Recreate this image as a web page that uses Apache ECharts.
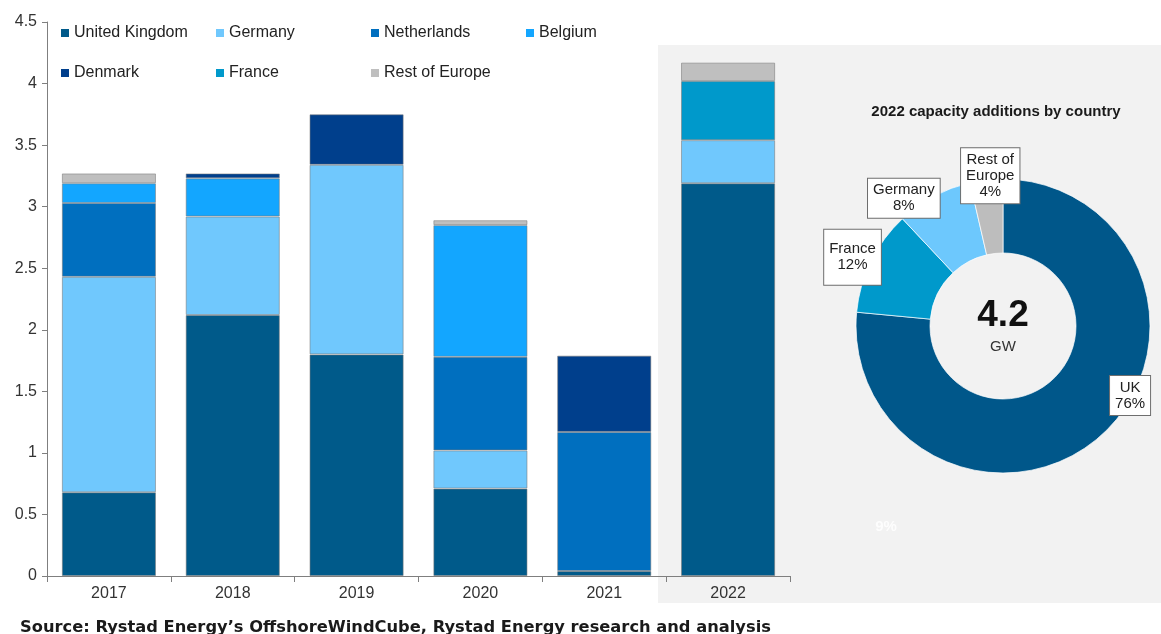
<!DOCTYPE html>
<html>
<head>
<meta charset="utf-8">
<title>European offshore wind capacity additions</title>
<script src="https://cdn.jsdelivr.net/npm/echarts@6/dist/echarts.min.js"></script>
<style>
  html, body { margin: 0; padding: 0; background: #ffffff; }
  #chart { width: 1161px; height: 634px; }
</style>
</head>
<body>
<div id="chart"></div>
<script>
// Annual offshore wind capacity additions (GW), stacked by country
const years = ['2017', '2018', '2019', '2020', '2021', '2022'];
const unitedKingdom = [0.68, 2.12, 1.80, 0.71, 0.04, 3.19];
const germany       = [1.75, 0.80, 1.54, 0.31, null, 0.35];
const netherlands   = [0.60, null, null, 0.76, 1.13, null];
const belgium       = [0.16, 0.31, null, 1.07, null, null];
const denmark       = [null, 0.04, 0.41, null, 0.62, null];
const france        = [null, null, null, null, null, 0.48];
const restOfEurope  = [0.08, null, null, 0.04, null, 0.15];

const seriesNames = ['United Kingdom', 'Germany', 'Netherlands', 'Belgium', 'Denmark', 'France', 'Rest of Europe'];
const seriesValues = [unitedKingdom, germany, netherlands, belgium, denmark, france, restOfEurope];
const seriesColors = ['#005a8a', '#70c8fd', '#006fbf', '#13a6ff', '#003f8c', '#0099cb', '#bfbfbf'];

// Donut: 2022 split, clockwise from 12 o'clock
const donutYear = '2022';
const donutLabels = ['UK', 'France', 'Germany', 'Rest of\nEurope'];
const donutSources = [unitedKingdom, france, germany, restOfEurope];
const donutColors = ['#00578a', '#0099cb', '#6dc8fd', '#bdbdbd'];
const donutLabelOffsets = [[51, -14], [-49, -19], [-46, -28], [0, -38]];
const donutLabelPadding = [[4, 5, 3, 5], [12, 5, 11, 5], [4, 5, 3, 5], [4, 5, 3, 5]];

const yTicks = { min: 0, max: 4.5, interval: 0.5 };
const FONT = '"Liberation Sans", Arial, sans-serif';

const yi = years.indexOf(donutYear);
const donutValues = donutSources.map(a => a[yi]);
const donutTotal = donutValues.reduce((s, v) => s + v, 0);

const chart = echarts.init(document.getElementById('chart'), null, { renderer: 'canvas' });

const barSeries = seriesNames.map((name, i) => ({
  name: name,
  type: 'bar',
  stack: 'total',
  barCategoryGap: '24%',
  data: seriesValues[i].map(v => (v == null ? '-' : v)),
  itemStyle: {
    color: seriesColors[i],
    borderColor: 'rgba(120,120,120,0.55)',
    borderWidth: 1
  },
  emphasis: { disabled: true }
}));

const donutSeries = {
  type: 'pie',
  center: [1003, 326],
  radius: [73, 147],
  startAngle: 90,
  clockwise: true,
  percentPrecision: 0,
  avoidLabelOverlap: false,
  labelLine: { show: false },
  emphasis: { disabled: true },
  itemStyle: { borderColor: 'rgba(255,255,255,0.7)', borderWidth: 1 },
  data: donutLabels.map((n, i) => ({
    name: n,
    value: donutValues[i],
    itemStyle: { color: donutColors[i] },
    label: { offset: donutLabelOffsets[i], padding: donutLabelPadding[i] }
  })),
  label: {
    show: true,
    position: 'inside',
    formatter: '{b}\n{d}%',
    fontFamily: FONT,
    fontSize: 15,
    lineHeight: 16,
    color: '#222',
    align: 'center',
    backgroundColor: '#ffffff',
    borderColor: '#6e6e6e',
    borderWidth: 1,
    padding: [4, 5, 3, 5]
  }
};

chart.setOption({
  animation: false,
  backgroundColor: '#ffffff',
  textStyle: { fontFamily: FONT },
  grid: { left: 47, right: 371, top: 22, bottom: 58, containLabel: false },
  legend: {
    data: seriesNames,
    left: 61,
    top: 19,
    padding: 0,
    width: 615,
    orient: 'horizontal',
    icon: 'rect',
    itemWidth: 8,
    itemHeight: 8,
    itemGap: 12,
    selectedMode: false,
    itemStyle: { borderWidth: 0 },
    textStyle: {
      fontFamily: FONT,
      fontSize: 16,
      color: '#222',
      width: 130,
      height: 28,
      lineHeight: 28
    }
  },
  xAxis: {
    type: 'category',
    data: years,
    axisLine: { lineStyle: { color: '#7f7f7f', width: 1 } },
    axisTick: { show: true, length: 6, lineStyle: { color: '#7f7f7f' } },
    axisLabel: { fontFamily: FONT, fontSize: 16, color: '#333', margin: 10 }
  },
  yAxis: {
    type: 'value',
    min: yTicks.min,
    max: yTicks.max,
    interval: yTicks.interval,
    splitLine: { show: false },
    axisLine: { show: true, lineStyle: { color: '#7f7f7f', width: 1 } },
    axisTick: { show: true, length: 5, lineStyle: { color: '#7f7f7f' } },
    axisLabel: { fontFamily: FONT, fontSize: 16, color: '#333', margin: 10 }
  },
  graphic: {
    elements: [
      {
        type: 'rect',
        z: -1,
        silent: true,
        shape: { x: 658, y: 45, width: 503, height: 558 },
        style: { fill: '#f2f2f2' }
      },
      {
        type: 'text',
        z: 100,
        style: {
          text: donutYear + ' capacity additions by country',
          x: 996, y: 112,
          font: 'bold 15px ' + FONT,
          fill: '#1a1a1a',
          align: 'center', verticalAlign: 'middle',
          textAlign: 'center', textVerticalAlign: 'middle'
        }
      },
      {
        type: 'text',
        z: 100,
        style: {
          text: donutTotal.toFixed(1),
          x: 1003, y: 316,
          font: 'bold 37px ' + FONT,
          fill: '#111',
          align: 'center', verticalAlign: 'middle',
          textAlign: 'center', textVerticalAlign: 'middle'
        }
      },
      {
        type: 'text',
        z: 100,
        style: {
          text: 'GW',
          x: 1003, y: 347,
          font: '15px ' + FONT,
          fill: '#333',
          align: 'center', verticalAlign: 'middle',
          textAlign: 'center', textVerticalAlign: 'middle'
        }
      },
      {
        type: 'text',
        z: 100,
        style: {
          text: '9%',
          x: 886, y: 527,
          font: 'bold 15px ' + FONT,
          fill: 'rgba(255,255,255,0.85)',
          align: 'center', verticalAlign: 'middle',
          textAlign: 'center', textVerticalAlign: 'middle'
        }
      },
      {
        type: 'text',
        z: 100,
        style: {
          text: 'Source: Rystad Energy\u2019s OffshoreWindCube, Rystad Energy research and analysis',
          x: 20, y: 628,
          font: 'bold 16.3px "DejaVu Sans", Verdana, sans-serif',
          fill: '#1a1a1a',
          align: 'left', verticalAlign: 'middle',
          textAlign: 'left', textVerticalAlign: 'middle'
        }
      }
    ]
  },
  series: barSeries.concat([donutSeries])
});
</script>
</body>
</html>
